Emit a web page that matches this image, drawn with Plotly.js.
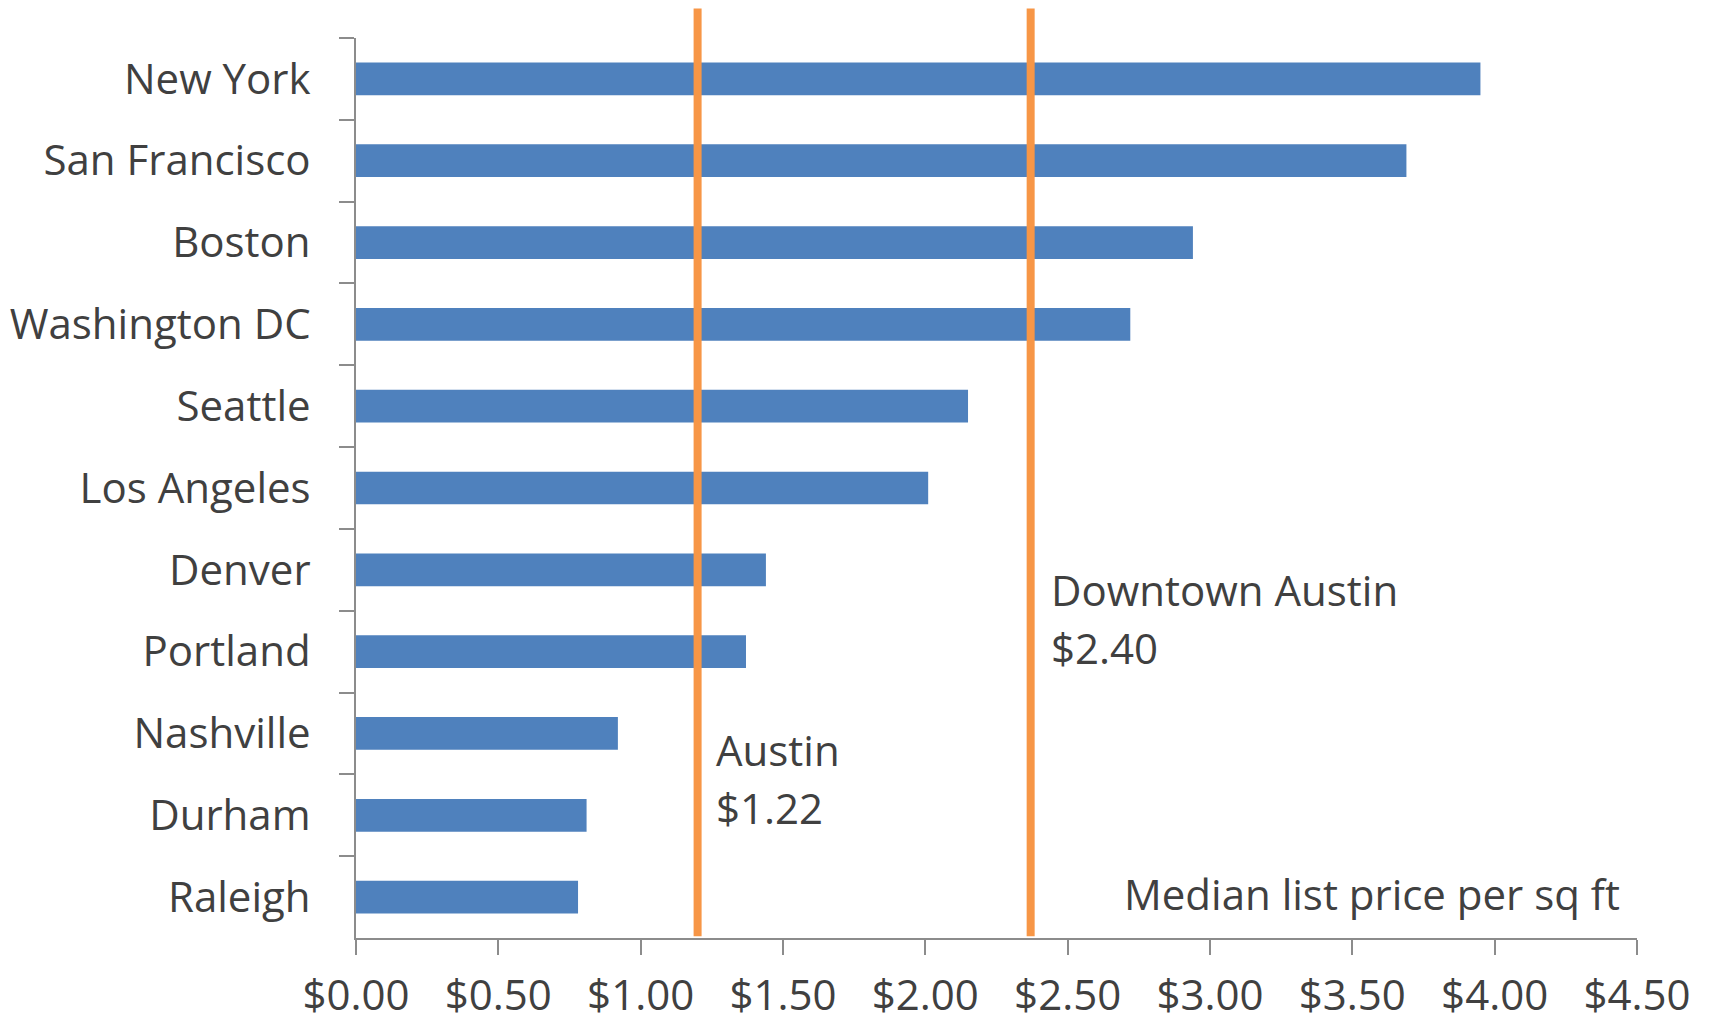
<!DOCTYPE html>
<html>
<head>
<meta charset="utf-8">
<script src="https://cdn.plot.ly/plotly-3.0.1.min.js"></script>
<style>html,body{margin:0;padding:0;background:#fff;}#chart{width:1709px;height:1024px;}</style>
</head>
<body>
<div id="chart"></div>
<script>
// Data
const cities = ["New York","San Francisco","Boston","Washington DC","Seattle","Los Angeles","Denver","Portland","Nashville","Durham","Raleigh"];
const pricePerSqFt = [3.95,3.69,2.94,2.72,2.15,2.01,1.44,1.37,0.92,0.81,0.78];
const xTickVals = [0,0.5,1,1.5,2,2.5,3,3.5,4,4.5];
const xTickText = ["$0.00","$0.50","$1.00","$1.50","$2.00","$2.50","$3.00","$3.50","$4.00","$4.50"];
const refLineX = [1.2, 2.37];
const refNames = ["Austin","Downtown Austin"];
const refValues = ["$1.22","$2.40"];
const refNameTextX = [1.259, 2.436];
const refNameTextY = [0.2097, 0.3874];
const refValueTextY = [0.1453, 0.323];
const noteText = "Median list price per sq ft";

const FONT = "'Open Sans', sans-serif";
const TEXT = "#404040";
const AXIS = "#8c8c8c";
const FS = 42;

const trace = {
  type: "bar",
  orientation: "h",
  x: pricePerSqFt,
  y: cities,
  marker: {color: "#4F81BD"},
  hoverinfo: "x+y"
};

const shapes = refLineX.map(v => ({
  type: "line", xref: "x", yref: "paper",
  x0: v, x1: v, y0: 0.002, y1: 1.0328,
  line: {color: "#F79646", width: 8},
  layer: "above"
}));

const annotations = [];
refLineX.forEach((v, i) => {
  annotations.push({xref: "x", yref: "paper", x: refNameTextX[i], y: refNameTextY[i],
    text: refNames[i], showarrow: false, xanchor: "left", yanchor: "middle",
    font: {family: FONT, size: FS, color: TEXT}});
  annotations.push({xref: "x", yref: "paper", x: refNameTextX[i], y: refValueTextY[i],
    text: refValues[i], showarrow: false, xanchor: "left", yanchor: "middle",
    font: {family: FONT, size: FS, color: TEXT}});
});
annotations.push({xref: "x", yref: "paper", x: 4.447, y: 0.0497, text: noteText,
  showarrow: false, xanchor: "right", yanchor: "middle",
  font: {family: FONT, size: FS, color: TEXT}});

const layout = {
  width: 1709, height: 1024,
  margin: {l: 356, r: 72, t: 37.5, b: 86.3, pad: 0},
  paper_bgcolor: "#ffffff", plot_bgcolor: "#ffffff",
  showlegend: false,
  bargap: 0.6,
  font: {family: FONT, color: TEXT},
  xaxis: {
    range: [0, 4.5],
    tickvals: xTickVals, ticktext: xTickText,
    showgrid: false, zeroline: false,
    showline: true, linecolor: AXIS, linewidth: 2,
    ticks: "outside", ticklen: 15, tickwidth: 2, tickcolor: AXIS,
    ticklabelstandoff: 5,
    tickfont: {family: FONT, size: FS, color: TEXT},
    fixedrange: true
  },
  yaxis: {
    type: "category",
    range: [10.5, -0.5],
    showgrid: false, zeroline: false,
    showline: true, linecolor: AXIS, linewidth: 2,
    ticks: "outside", ticklen: 15, tickwidth: 2, tickcolor: AXIS,
    tickson: "boundaries",
    ticklabelstandoff: 35,
    tickfont: {family: FONT, size: FS, color: TEXT},
    fixedrange: true
  },
  shapes: shapes,
  annotations: annotations
};

Plotly.newPlot("chart", [trace], layout, {displayModeBar: false, staticPlot: true});
</script>
</body>
</html>
